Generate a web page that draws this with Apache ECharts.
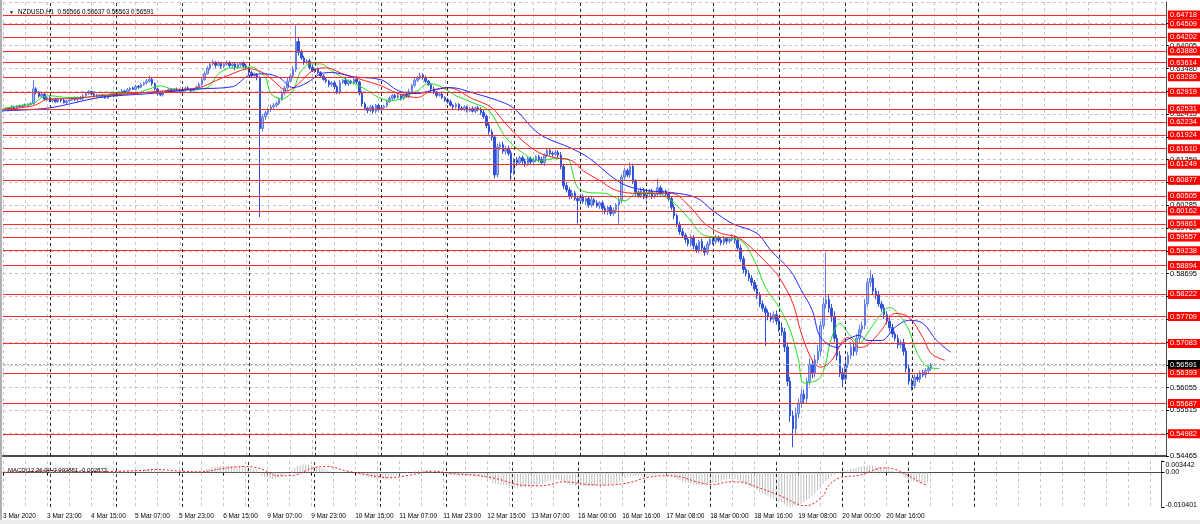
<!DOCTYPE html>
<html><head><meta charset="utf-8">
<script src="https://cdn.jsdelivr.net/npm/echarts@6/dist/echarts.min.js"></script>
<style>html,body{margin:0;padding:0;background:#fff}#c{width:1200px;height:524px}</style>
</head><body><div id="c"></div>
<script>
// ---------- data (prices in pips = 1e-4) ----------
const symbolTitle = 'NZDUSD,H1  0.56566 0.56637 0.56563 0.56591';
const macdTitle = 'MACD(12,26,9) -0.002851 -0.002873';
const dateLabels = ['3 Mar 2020','3 Mar 23:00','4 Mar 15:00','5 Mar 07:00','5 Mar 23:00','6 Mar 15:00','9 Mar 07:00','9 Mar 23:00','10 Mar 15:00','11 Mar 07:00','11 Mar 23:00','12 Mar 15:00','13 Mar 07:00','16 Mar 00:00','16 Mar 16:00','17 Mar 08:00','18 Mar 00:00','18 Mar 16:00','19 Mar 08:00','20 Mar 00:00','20 Mar 16:00'];
const firstBarTime = Date.UTC(2020, 2, 3, 7);
const totalSlots = 422;
const firstOpen = 6250;
const closes = [
6252,6255,6254,6258,6256,6260,6259,6262,6261,6264,6266,
6300,
6292,6283,6288,6276,6280,6272,
6275,6270,6276,6273,6268,6272,
6274,6278,6275,6280,6277,6284,6290,6294,6288,6285,6282,6286,
6283,6279,6285,6288,6284,6290,
6292,6295,6291,6298,6302,6299,6306,6304,6310,6314,6318,
6322,
6312,6300,6290,6286,6292,
6294,6298,6295,6300,6297,6294,6298,6302,6299,6296,6300,6304,
6310,6322,6335,6348,6358,
6362,6355,6359,6352,6357,6361,6354,6358,6350,6356,6360,6353,6349,
6338,6330,6333,6326,
6208,
6235,6244,6252,6258,6262,6266,
6275,6290,6302,6318,6330,6345,
6410,
6385,
6372,6362,6365,
6350,6342,6345,6338,6330,
6322,6318,6310,6314,6305,6292,
6315,6320,6312,6318,6314,6322,6316,
6290,6265,
6255,6250,6258,6248,6262,6252,6256,6260,
6270,6278,6285,6280,
6284,6278,6288,6282,
6295,6308,6320,6325,6332,6326,6318,
6310,6300,6292,6285,6288,6280,6275,6270,
6262,6258,6264,6255,6252,6258,6250,6254,6248,6256,6252,
6245,6236,6215,6200,6188,
6100,
6165,6170,6155,6162,6150,
6105,
6135,6128,6140,6132,6126,6138,6130,6135,6142,6136,6128,
6145,6157,6150,6148,6152,6146,
6120,6075,6065,6050,6058,6045,6040,
6050,6038,6045,6030,6042,6035,6028,
6035,6022,6015,6025,6010,6018,6030,
6040,6095,6110,6100,6120,6085,
6060,6052,6065,6048,6058,6062,6050,6055,
6070,6058,6062,6055,6045,
6025,6005,5985,5968,
5960,5950,5940,5955,5935,5925,5945,5930,5920,
5940,5950,5945,5955,5948,5942,5952,5946,5950,5955,5948,
5930,5905,5880,5870,5860,5850,5835,5820,
5800,5790,5780,5770,5765,5775,5760,5745,
5735,5700,5620,5540,
5510,
5545,5570,5590,5580,
5620,5660,5640,5670,5690,5750,5800,
5810,
5790,5770,
5720,5680,5640,5625,
5660,5680,5700,5690,5720,5740,5750,
5800,5850,5860,5830,
5820,5800,5790,5775,5760,
5745,5730,5720,5705,5710,5690,
5650,5620,5610,
5630,5625,5640,5635,5645,5650,5659];
const upperWicks = [
2,3,2,4,3,2,3,2,4,3, 3,21,4,3,5,2,4,3,2,4, 3,2,4,3,2,3,4,2,3,5, 4,3,2,4,3,2,3,4,2,3,
4,3,2,5,3,4,2,3,4,3, 4,3,5,9,4,3,2,4,3,2, 3,4,2,3,4,3,2,4,3,2, 4,5,4,6,5,4,6,3,5,4,
3,5,4,3,5,4,3,4,5,3, 4,5,3,4,6,5,4,6,5,4, 5,6,5,7,6,8,37,10,6,5, 4,5,6,4,5,3,4,5,3,4,
5,4,6,3,5,4,3,5,4,3, 5,4,3,5,4,3,4,5,3,4, 5,3,4,5,3,4,3,5,4,6, 5,6,4,5,3,4,5,3,4,5,
3,4,5,3,4,3,5,4,3,4, 5,3,4,5,6,5,7,6,5,8, 6,7,5,6,7,5,6,4,5,6, 4,5,6,4,5,6,5,6,4,5,
6,5,7,6,8,6,7,5,6,7, 5,6,4,7,5,6,4,5,6,4, 5,6,4,8,6,7,5,9,6,5, 4,6,5,7,5,6,4,22,5,6,
4,5,6,7,5,6,8,5,6,7, 5,6,4,7,5,6,8,5,6,4, 5,6,4,5,7,5,6,8,7,6, 8,7,6,9,7,8,6,7,9,8,
10,8,12,9,11,10,12,14,10,12, 11,9,13,10,12,15,11,14,110,12, 10,13,9,11,12,10,9,11,8,10,
12,9,11,10,18,9,8,10,7,9, 8,7,9,6,8,7,9,8,10,7, 6,8,5,7,6,5,4];
const lowerWicks = [
3,2,4,2,3,4,2,3,2,4, 2,3,5,3,4,2,5,3,4,2, 3,4,2,3,4,2,3,5,2,3, 2,4,3,5,2,3,4,2,3,4,
3,2,4,3,2,4,3,2,3,4, 2,3,4,3,5,4,6,3,4,2, 3,2,4,3,2,4,3,2,4,3, 2,3,4,3,2,5,4,6,3,5,
4,3,5,4,6,3,4,5,3,6, 5,4,6,206,8,7,5,6,4,5, 4,3,5,4,3,5,6,8,5,6, 4,5,3,6,4,5,3,4,6,5,
6,4,5,3,4,5,3,4,6,5, 6,5,7,4,6,5,4,6,5,4, 3,5,4,3,5,4,3,4,5,3, 4,3,5,4,3,5,4,6,3,4,
5,4,3,5,4,6,3,4,5,4, 3,5,4,6,5,7,6,8,8,6, 7,6,8,5,18,6,7,5,6,7, 5,6,4,5,6,5,7,4,5,6,
5,6,7,8,6,7,6,5,53,6, 5,7,6,5,6,4,7,5,6,8, 6,5,7,43,6,8,5,7,6,8, 5,6,4,5,7,6,5,4,6,5,
6,5,7,8,6,7,5,8,6,7, 8,6,7,5,8,6,5,7,6,5, 6,5,7,6,5,8,6,7,8,6, 7,8,6,9,7,8,78,8,7,9,
8,10,9,12,11,14,43,12,10,11, 12,10,9,13,11,10,12,9,11,10, 12,9,11,10,19,10,9,8,11,9,
10,8,9,7,10,8,9,7,8,10, 7,9,8,7,9,8,10,9,8,11, 7,6,8,5,7,6,5];
// moving averages: [bar, pips]
const maGreen = [[0,6254],[6,6261],[11,6266],[14,6280],[17,6284],[23,6280],[29,6280],[35,6284],[41,6289],[47,6289],[53,6300],[57,6307],[61,6300],[67,6298],[74,6303],[78,6335],[83,6349],[87,6349],[90,6351],[93,6338],[95,6328],[97,6289],[101,6277],[105,6296],[107,6331],[108,6342],[111,6358],[115,6358],[119,6342],[125,6319],[131,6300],[136,6280],[140,6273],[143,6275],[150,6296],[154,6312],[158,6307],[164,6284],[170,6268],[176,6249],[182,6187],[188,6152],[194,6133],[200,6138],[204,6138],[208,6071],[212,6059],[218,6057],[225,6040],[230,6059],[237,6057],[242,6040],[248,6001],[254,5959],[260,5955],[267,5948],[272,5901],[276,5839],[281,5792],[285,5739],[288,5669],[290,5616],[296,5630],[300,5722],[303,5755],[306,5732],[310,5709],[313,5732],[317,5769],[321,5792],[324,5778],[328,5739],[331,5685],[335,5653],[339,5650]];
const maRed = [[0,6252],[11,6261],[17,6277],[23,6277],[35,6284],[47,6289],[59,6296],[71,6303],[77,6319],[83,6335],[89,6347],[94,6338],[97,6324],[103,6296],[107,6312],[112,6342],[117,6349],[123,6335],[131,6319],[137,6307],[143,6289],[150,6280],[155,6296],[161,6303],[170,6277],[177,6256],[182,6219],[188,6180],[194,6152],[200,6140],[206,6133],[210,6110],[216,6087],[222,6064],[230,6057],[242,6057],[249,6024],[254,5987],[260,5964],[266,5955],[272,5924],[278,5885],[281,5862],[286,5801],[289,5732],[293,5669],[296,5653],[300,5669],[304,5715],[306,5722],[310,5699],[313,5704],[318,5739],[323,5778],[328,5769],[333,5722],[336,5685],[341,5669]];
const maBlue = [[0,6249],[17,6256],[35,6280],[53,6289],[71,6300],[83,6305],[89,6331],[95,6335],[100,6326],[105,6303],[110,6314],[115,6335],[119,6338],[127,6328],[137,6321],[143,6296],[150,6289],[155,6296],[162,6303],[170,6291],[182,6266],[186,6249],[194,6196],[206,6161],[212,6140],[224,6080],[233,6064],[242,6059],[251,6047],[257,6017],[264,5987],[273,5964],[278,5924],[285,5878],[289,5832],[293,5785],[296,5722],[302,5699],[305,5715],[310,5727],[313,5715],[318,5715],[323,5746],[328,5762],[333,5755],[338,5715],[343,5688]];
// MACD histogram per bar (units 1e-4)
const macdHist = [
1,1,1,2,2,2,2,2,2,3, 3,8,9,8,8,7,7,6,5,4, 3,2,2,1,1,1,1,1,1,2, 3,4,4,4,3,3,3,2,2,3,
3,3,4,4,5,5,6,6,7,7, 8,9,10,11,10,9,7,5,4,3, 3,2,2,2,2,1,1,2,2,1, 1,2,4,7,10,13,15,17,18,19,
19,20,20,19,19,18,18,17,16,14, 12,10,9,-1,-9,-14,-17,-19,-19,-19, -17,-14,-10,-5,0,5,14,19,22,24, 24,23,21,19,17,14,11,8,5,3,
0,-3,-3,-2,-2,-1,-1,0,0,-2, -6,-10,-13,-15,-17,-18,-19,-19,-19,-18, -16,-13,-10,-8,-6,-5,-3,-2,0,2, 4,6,7,7,6,4,2,0,-2,-3,
-4,-6,-7,-8,-9,-9,-10,-10,-10,-10, -10,-10,-10,-11,-12,-15,-18,-22,-32,-34, -35,-37,-37,-38,-43,-44,-45,-45,-45,-44, -43,-42,-40,-38,-36,-35,-33,-30,-27,-25,
-23,-21,-22,-26,-30,-34,-36,-38,-40,-40, -41,-41,-41,-41,-40,-40,-39,-39,-39,-38, -38,-37,-35,-33,-28,-22,-17,-12,-10,-10, -10,-10,-9,-10,-9,-8,-8,-7,-6,-6,
-6,-7,-9,-12,-16,-20,-24,-27,-30,-32, -34,-36,-36,-37,-38,-37,-35,-33,-31,-29, -27,-25,-23,-21,-20,-19,-20,-23,-27,-31, -35,-39,-43,-48,-53,-58,-63,-68,-72,-76,
-80,-84,-87,-91,-96,-101,-104,-103,-101,-98, -94,-90,-84,-78,-72,-64,-55,-45,-35,-27, -20,-12,-6,-2,1,4,6,8,10,12,
14,16,18,20,21,21,20,18,16,14, 12,10,8,5,2,-2,-6,-10,-15,-20, -24,-27,-29,-30,-31,-31,-30];
const macdSignal = [[0,1],[10,2],[15,5],[22,6],[30,2],[40,3],[50,6],[56,9],[64,4],[72,2],[80,12],[88,18],[94,10],[100,-10],[106,-8],[112,12],[118,18],[124,6],[132,-6],[140,-16],[148,-8],[156,4],[164,-4],[172,-9],[180,-20],[188,-38],[196,-40],[204,-28],[212,-36],[220,-38],[228,-30],[234,-15],[240,-10],[246,-13],[252,-28],[258,-37],[264,-28],[269,-30],[274,-44],[280,-62],[285,-80],[288,-93],[291,-100],[294,-96],[298,-70],[300,-40],[304,-16],[310,-10],[313,-4],[316,6],[320,14],[324,10],[327,-1],[331,-18],[334,-33],[336,-38]];
// horizontal price levels (red lines) and axis
const levelLines = [0.64718,0.64509,0.64202,0.63880,0.63614,0.63280,0.62919,0.62531,0.62234,0.61924,0.61610,0.61249,0.60877,0.60505,0.60162,0.59861,0.59557,0.59238,0.58894,0.58222,0.57709,0.57083,0.56393,0.55687,0.54982];
const bidPrice = 0.56591;
const yMin = 0.54465, yMax = 0.6502, yStep = 0.0053;
const yTickLabels = ['0.54465','0.54990','0.55515','0.56055','0.56585','0.57115','0.57650','0.58175','0.58695','0.59230','0.59760','0.60285','0.60820','0.61359','0.61885','0.62415','0.62945','0.63480','0.64005','0.64535'];
const macdMax = 0.003442, macdMin = -0.010401;
const macdTickValues = [0.003442, 0, -0.010401];
const macdTickLabels = ['0.003442','0.00','-0.010401'];

// ---------- build ----------
const P = v => v / 10000;
const months = ['Jan','Feb','Mar','Apr','May','Jun','Jul','Aug','Sep','Oct','Nov','Dec'];
const cats = [], hours = [];
for (let t = firstBarTime; cats.length < totalSlots; t += 3600e3) {
  const d = new Date(t), wd = d.getUTCDay();
  if (wd === 0 || wd === 6) continue;
  const h = d.getUTCHours();
  cats.push(d.getUTCDate() + ' ' + months[d.getUTCMonth()] + ' ' + (h < 10 ? '0' + h : h) + ':00');
  hours.push(h);
}
cats[0] = dateLabels[0];
const labelBars = dateLabels.map(s => cats.indexOf(s));
const gridSet = new Set();
labelBars.forEach(b => { gridSet.add(b); gridSet.add(b + 8); });
for (let b = labelBars[labelBars.length - 1]; b < totalSlots; b += 8) gridSet.add(b);
const sepBars = [];
for (let i = 1; i < totalSlots; i++) {
  if (hours[i] === 0) { sepBars.push(i); if (i > closes.length) break; }
}
const candles = closes.map((c, i) => {
  const o = i ? closes[i - 1] : firstOpen;
  return [P(o), P(c), P(Math.min(o, c) - lowerWicks[i]), P(Math.max(o, c) + upperWicks[i])];
});
const toLine = arr => arr.map(p => [p[0], P(p[1])]);
const FONT = 'Liberation Sans';
const sepLines = sepBars.map(b => ({ xAxis: b, lineStyle: { color: '#2a2a2a', type: [3, 3], width: 1 }, label: { show: false } }));
const levelItems = levelLines.map(v => ({
  yAxis: v,
  lineStyle: { color: '#ff2b2b', width: 1, type: 'solid' },
  label: { show: true, position: 'end', distance: 2, formatter: v.toFixed(5), color: '#fff', backgroundColor: '#ff0000', padding: [1, 3, 0, 2], fontSize: 7.5, fontFamily: FONT }
}));
const bidItem = {
  yAxis: bidPrice,
  lineStyle: { color: '#a8a8a8', width: 1, type: [2, 2] },
  label: { show: true, position: 'end', distance: 2, formatter: bidPrice.toFixed(5), color: '#fff', backgroundColor: '#000', padding: [1, 3, 0, 2], fontSize: 7.5, fontFamily: FONT }
};
const gridLineStyle = { color: '#c6c6c6', type: [3, 3], width: 1 };
const xCommon = {
  type: 'category', data: cats, boundaryGap: false,
  splitLine: { show: true, interval: (i) => gridSet.has(i), lineStyle: gridLineStyle }
};

const option = {
  animation: false,
  backgroundColor: '#ffffff',
  title: [
    { text: symbolTitle, left: 13, top: 4, textStyle: { fontSize: 6.3, fontWeight: 'normal', color: '#000', fontFamily: FONT } },
    { text: '▼', left: 4, top: 5, textStyle: { fontSize: 5, fontWeight: 'normal', color: '#000' } },
    { text: macdTitle, left: 3, top: 462, textStyle: { fontSize: 6, fontWeight: 'normal', color: '#000', fontFamily: FONT } }
  ],
  grid: [
    { left: 3, right: 34, top: 2, height: 454 },
    { left: 3, right: 34, top: 461, height: 46 }
  ],
  xAxis: [
    Object.assign({}, xCommon, { gridIndex: 0, axisLine: { show: true, lineStyle: { color: '#4a4a4a', width: 2 } }, axisTick: { show: false }, axisLabel: { show: false } }),
    Object.assign({}, xCommon, {
      gridIndex: 1,
      axisLine: { show: true, lineStyle: { color: '#4a4a4a', width: 1 } },
      axisTick: { show: true, length: 3, interval: (i) => labelBars.includes(i), lineStyle: { color: '#000' } },
      axisLabel: { show: true, interval: (i) => labelBars.includes(i), align: 'left', margin: 6, fontSize: 6.5, color: '#000', fontFamily: FONT }
    })
  ],
  yAxis: [
    {
      type: 'value', gridIndex: 0, position: 'right', min: yMin, max: yMax, interval: yStep,
      axisLine: { show: true, lineStyle: { color: '#4a4a4a' } },
      axisTick: { show: true, length: 3, lineStyle: { color: '#000' } },
      splitLine: { show: true, lineStyle: gridLineStyle },
      axisLabel: {
        show: true, margin: 4, fontSize: 7.5, color: '#000', fontFamily: FONT, showMaxLabel: false,
        formatter: v => { const k = Math.round((v - yMin) / yStep); return Math.abs(v - (yMin + k * yStep)) < 1e-7 ? (yTickLabels[k] || '') : ''; }
      }
    },
    {
      type: 'value', gridIndex: 1, position: 'right', min: macdMin, max: macdMax,
      axisLine: { show: true, lineStyle: { color: '#4a4a4a' } },
      axisTick: { show: true, length: 3, customValues: macdTickValues, lineStyle: { color: '#000' } },
      splitLine: { show: false },
      axisLabel: {
        show: true, margin: 4, fontSize: 7, color: '#000', fontFamily: FONT, customValues: macdTickValues,
        formatter: v => {
          const k = macdTickValues.findIndex(t => Math.abs(t - v) < 1e-9);
          if (k < 0) return '';
          return k === 0 ? '{t|' + macdTickLabels[k] + '}' : (k === 2 ? '{b|' + macdTickLabels[k] + '}' : macdTickLabels[k]);
        },
        rich: { t: { padding: [9, 0, 0, 0], fontSize: 7, fontFamily: FONT }, b: { padding: [0, 0, 4, 0], fontSize: 7, fontFamily: FONT } }
      }
    }
  ],
  series: [
    {
      type: 'candlestick', xAxisIndex: 0, yAxisIndex: 0, data: candles, barWidth: 2, z: 3,
      itemStyle: { color: '#9fb4f2', color0: '#2f52d6', borderColor: '#5f7fe8', borderColor0: '#2f52d6', borderWidth: 1 },
      markLine: { silent: true, precision: 5, symbol: ['none', 'none'], animation: false, data: levelItems.concat([bidItem]).concat(sepLines) }
    },
    { type: 'line', xAxisIndex: 0, yAxisIndex: 0, data: toLine(maGreen), smooth: 0.35, showSymbol: false, z: 4, lineStyle: { color: '#1ee01e', width: 1 } },
    { type: 'line', xAxisIndex: 0, yAxisIndex: 0, data: toLine(maRed), smooth: 0.35, showSymbol: false, z: 4, lineStyle: { color: '#ff2020', width: 1 } },
    { type: 'line', xAxisIndex: 0, yAxisIndex: 0, data: toLine(maBlue), smooth: 0.35, showSymbol: false, z: 4, lineStyle: { color: '#2828ff', width: 1 } },
    {
      type: 'bar', xAxisIndex: 1, yAxisIndex: 1, data: macdHist.map(P), barWidth: 1, itemStyle: { color: '#c0c0c0' },
      markLine: { silent: true, precision: 5, symbol: ['none', 'none'], animation: false, data: sepLines }
    },
    { type: 'line', xAxisIndex: 1, yAxisIndex: 1, data: toLine(macdSignal), smooth: 0.35, showSymbol: false, z: 4, lineStyle: { color: '#ff1a1a', width: 1, type: [2, 2] } }
  ],
  graphic: [
    { type: 'rect', left: 0, top: 0, shape: { width: 2, height: 524 }, style: { fill: '#b0b0b0' }, silent: true },
    { type: 'rect', left: 0, bottom: 0, shape: { width: 1200, height: 4 }, style: { fill: '#ececec' }, silent: true }
  ]
};
const chart = echarts.init(document.getElementById('c'), null, { renderer: 'canvas' });
chart.setOption(option);
</script>
</body></html>
